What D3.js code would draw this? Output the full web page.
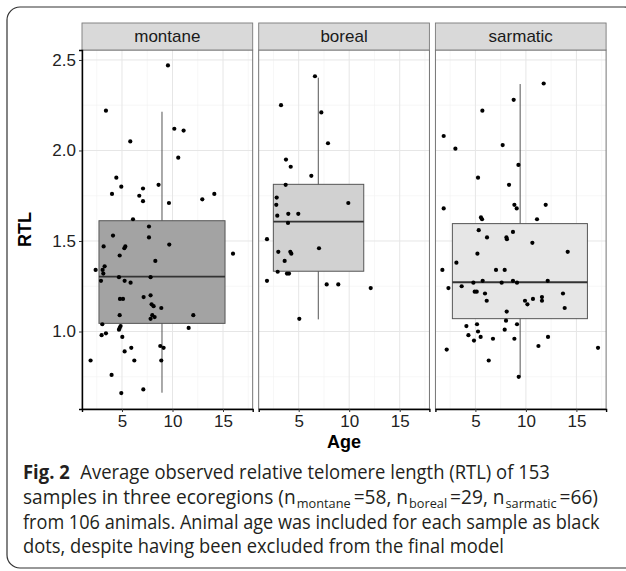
<!DOCTYPE html>
<html>
<head>
<meta charset="utf-8">
<script src="https://cdn.jsdelivr.net/npm/d3@7"></script>
<style>
  body { margin: 0; background: #fff; }
  svg { display: block; }
  .chart text { font-family: 'Liberation Sans', Arial, Helvetica, sans-serif; }
  .chart text.cap { font-family: 'Open Sans', 'Noto Sans', sans-serif; }
</style>
</head>
<body>
<div id="chart"></div>
<script>
// ecoregions shown as facets
var regions = ['montane', 'boreal', 'sarmatic'];

// age (years) and RTL of each sample, per region
var montaneAge = [9.55, 3.41, 10.18, 11.10, 5.82, 10.57, 4.44, 4.93, 7.08, 8.62, 4.01, 6.71, 14.14, 7.08, 12.95, 9.65,
  6.09, 7.67, 4.11, 7.67, 3.18, 9.68, 5.23, 5.33, 4.77, 15.99, 8.30, 3.28, 2.39, 3.08, 3.15, 4.70, 7.83, 2.92, 5.26,
  5.85, 7.83, 7.14, 4.80, 5.10, 7.93, 8.13, 8.89, 12.06, 4.77, 8.00, 8.23, 7.83, 3.05, 4.86, 4.77, 4.70, 11.60, 3.41,
  2.98, 5.03, 5.92, 8.79, 9.12, 5.26, 1.89, 6.22, 8.89, 3.97, 7.11, 4.93];
var montaneRTL = [2.47, 2.22, 2.12, 2.11, 2.05, 1.96, 1.85, 1.80, 1.79, 1.81, 1.76, 1.75, 1.76, 1.72, 1.73, 1.71,
  1.62, 1.58, 1.53, 1.52, 1.47, 1.48, 1.46, 1.47, 1.42, 1.43, 1.39, 1.36, 1.34, 1.34, 1.32, 1.30, 1.30, 1.28, 1.28,
  1.27, 1.20, 1.19, 1.18, 1.18, 1.15, 1.14, 1.13, 1.09, 1.09, 1.09, 1.08, 1.07, 1.04, 1.03, 1.02, 1.01, 1.02, 0.99,
  0.98, 0.97, 0.91, 0.92, 0.91, 0.89, 0.84, 0.84, 0.84, 0.76, 0.68, 0.66];

var borealAge = [6.61, 3.25, 7.24, 7.90, 3.74, 4.21, 6.25, 3.71, 2.82, 2.78, 9.91, 2.88, 3.97, 4.96, 3.94, 1.86,
  2.98, 4.17, 4.27, 7.01, 3.61, 2.92, 3.84, 4.04, 1.86, 7.77, 8.92, 12.13, 5.06];
var borealRTL = [2.41, 2.25, 2.21, 2.04, 1.95, 1.91, 1.86, 1.81, 1.74, 1.70, 1.71, 1.64, 1.65, 1.65, 1.60, 1.51,
  1.44, 1.44, 1.43, 1.46, 1.39, 1.33, 1.32, 1.32, 1.28, 1.26, 1.26, 1.24, 1.07];

var sarmaticAge = [11.76, 8.79, 5.69, 1.86, 3.02, 7.70, 9.26, 5.26, 8.33, 1.86, 8.86, 9.09, 11.96, 5.55, 5.66, 11.10,
  5.33, 6.15, 8.07, 8.12, 8.72, 10.64, 5.20, 14.14, 3.12, 1.73, 7.04, 7.90, 4.80, 5.72, 7.60, 8.72, 9.12, 12.16, 2.33,
  3.64, 4.93, 5.13, 5.95, 6.12, 9.91, 10.15, 10.70, 11.59, 11.59, 13.67, 13.84, 8.10, 8.03, 4.11, 5.16, 9.12, 7.90,
  5.26, 4.31, 4.86, 5.52, 6.74, 8.86, 12.19, 11.24, 2.16, 17.14, 6.32, 9.29];
var sarmaticRTL = [2.37, 2.28, 2.22, 2.08, 2.01, 2.03, 1.92, 1.85, 1.81, 1.68, 1.70, 1.68, 1.70, 1.63, 1.62, 1.62,
  1.56, 1.52, 1.52, 1.51, 1.55, 1.49, 1.43, 1.44, 1.38, 1.34, 1.34, 1.34, 1.27, 1.28, 1.27, 1.28, 1.27, 1.28, 1.24,
  1.25, 1.22, 1.22, 1.21, 1.17, 1.17, 1.15, 1.18, 1.19, 1.17, 1.21, 1.13, 1.11, 1.06, 1.03, 1.04, 1.04, 1.01,
  1.00, 0.98, 0.95, 0.97, 0.96, 0.96, 0.97, 0.92, 0.90, 0.91, 0.84, 0.75];

// boxplot summaries per region: x extent of the box (age), whisker position, quartiles, whiskers
var boxAgeMin = [2.72, 2.49, 2.72];
var boxAgeMax = [15.20, 11.44, 16.09];
var boxAgeMid = [8.96, 6.94, 9.43];
var boxLower = [0.662, 1.067, 0.750];
var boxQ1 = [1.045, 1.333, 1.071];
var boxMedian = [1.303, 1.607, 1.272];
var boxQ3 = [1.612, 1.813, 1.596];
var boxUpper = [2.214, 2.402, 2.367];
var boxFill = ['#a3a3a3', '#d1d1d1', '#e6e6e6'];

var xTicks = [5, 10, 15];
var xMinor = [2.5, 7.5, 12.5, 17.5];
var yTicks = [1.0, 1.5, 2.0, 2.5];
var yMinor = [0.75, 1.25, 1.75, 2.25];

var ages = [montaneAge, borealAge, sarmaticAge];
var rtls = [montaneRTL, borealRTL, sarmaticRTL];

var W = 626, H = 571;
var panelTop = 50, panelBottom = 409, stripTop = 23;
var panelLeft = 82, panelW = 170.7, panelGap = 6;

var svg = d3.select('#chart').append('svg')
  .attr('class', 'chart')
  .attr('width', W)
  .attr('height', H);

// outer frame of the figure
svg.append('rect')
  .attr('x', 7).attr('y', 7)
  .attr('width', 630).attr('height', 561)
  .attr('rx', 13).attr('ry', 13)
  .attr('fill', 'none')
  .attr('stroke', '#333')
  .attr('stroke-width', 1.2);

var x = d3.scaleLinear().domain([1.04, 17.94]).range([0, panelW]);
var y = d3.scaleLinear().domain([0.572, 2.555]).range([panelBottom, panelTop]);

regions.forEach(function (name, i) {
  var g = svg.append('g')
    .attr('transform', 'translate(' + (panelLeft + i * (panelW + panelGap)) + ',0)');

  // grid
  g.selectAll('.xminor').data(xMinor).enter().append('line')
    .attr('x1', function (d) { return x(d); }).attr('x2', function (d) { return x(d); })
    .attr('y1', panelTop).attr('y2', panelBottom)
    .attr('stroke', '#f2f2f2').attr('stroke-width', 0.6);
  g.selectAll('.yminor').data(yMinor).enter().append('line')
    .attr('x1', 0).attr('x2', panelW)
    .attr('y1', function (d) { return y(d); }).attr('y2', function (d) { return y(d); })
    .attr('stroke', '#f2f2f2').attr('stroke-width', 0.6);
  g.selectAll('.xmajor').data(xTicks).enter().append('line')
    .attr('x1', function (d) { return x(d); }).attr('x2', function (d) { return x(d); })
    .attr('y1', panelTop).attr('y2', panelBottom)
    .attr('stroke', '#e6e6e6').attr('stroke-width', 1);
  g.selectAll('.ymajor').data(yTicks).enter().append('line')
    .attr('x1', 0).attr('x2', panelW)
    .attr('y1', function (d) { return y(d); }).attr('y2', function (d) { return y(d); })
    .attr('stroke', '#e6e6e6').attr('stroke-width', 1);

  // whisker
  g.append('line')
    .attr('x1', x(boxAgeMid[i])).attr('x2', x(boxAgeMid[i]))
    .attr('y1', y(boxUpper[i])).attr('y2', y(boxLower[i]))
    .attr('stroke', '#555').attr('stroke-width', 1);

  // box
  g.append('rect')
    .attr('x', x(boxAgeMin[i]))
    .attr('width', x(boxAgeMax[i]) - x(boxAgeMin[i]))
    .attr('y', y(boxQ3[i]))
    .attr('height', y(boxQ1[i]) - y(boxQ3[i]))
    .attr('fill', boxFill[i])
    .attr('stroke', '#555').attr('stroke-width', 1);
  g.append('line')
    .attr('x1', x(boxAgeMin[i])).attr('x2', x(boxAgeMax[i]))
    .attr('y1', y(boxMedian[i])).attr('y2', y(boxMedian[i]))
    .attr('stroke', '#333').attr('stroke-width', 1.8);

  // points
  g.selectAll('circle').data(d3.range(ages[i].length)).enter().append('circle')
    .attr('cx', function (k) { return x(ages[i][k]); })
    .attr('cy', function (k) { return y(rtls[i][k]); })
    .attr('r', 2.1)
    .attr('fill', '#000');

  // panel border
  g.append('rect')
    .attr('x', 0).attr('y', panelTop)
    .attr('width', panelW).attr('height', panelBottom - panelTop)
    .attr('fill', 'none').attr('stroke', '#666').attr('stroke-width', 0.9);

  // strip
  g.append('rect')
    .attr('x', 0).attr('y', stripTop)
    .attr('width', panelW).attr('height', panelTop - stripTop)
    .attr('fill', '#d9d9d9').attr('stroke', '#7a7a7a').attr('stroke-width', 0.9);
  g.append('text')
    .attr('x', panelW / 2).attr('y', (stripTop + panelTop) / 2)
    .attr('dy', '0.35em')
    .attr('text-anchor', 'middle')
    .attr('font-size', 17)
    .attr('fill', '#1a1a1a')
    .text(name);

  // x axis
  var xa = g.append('g')
    .attr('transform', 'translate(0,' + panelBottom + ')')
    .call(d3.axisBottom(x).tickValues(xTicks).tickSize(3).tickPadding(3));
  xa.attr('font-family', null);
  xa.select('.domain').attr('stroke', '#000').attr('stroke-width', 1.4);
  xa.selectAll('.tick line').attr('stroke', '#333');
  xa.selectAll('.tick text').attr('font-size', 17).attr('fill', '#222');

  if (i === 0) {
    var ya = g.append('g')
      .call(d3.axisLeft(y).tickValues(yTicks).tickFormat(d3.format('.1f')).tickSize(3).tickPadding(3));
    ya.attr('font-family', null);
    ya.select('.domain').attr('stroke', '#000').attr('stroke-width', 1.4);
    ya.selectAll('.tick line').attr('stroke', '#333');
    ya.selectAll('.tick text').attr('font-size', 17).attr('fill', '#222');
  }
});

// axis titles
svg.append('text')
  .attr('x', 344).attr('y', 442).attr('dy', '0.35em')
  .attr('text-anchor', 'middle')
  .attr('font-size', 18).attr('font-weight', 'bold')
  .text('Age');
svg.append('text')
  .attr('transform', 'translate(25,' + ((panelTop + panelBottom) / 2) + ') rotate(-90)')
  .attr('dy', '0.35em')
  .attr('text-anchor', 'middle')
  .attr('font-size', 18).attr('font-weight', 'bold')
  .text('RTL');

// caption, one group per line, stretched to the reference line widths
var capLines = [
  [['Fig. 2', 'b'], ['\u00a0\u00a0Average observed relative telomere length (RTL) of 153', 'n']],
  [['samples in three ecoregions (n', 'n'], ['montane', 's'], ['=58, n', 'n'], ['boreal', 's'],
   ['=29, n', 'n'], ['sarmatic', 's'], ['=66)', 'n']],
  [['from 106 animals. Animal age was included for each sample as black', 'n']],
  [['dots, despite having been excluded from the final model', 'n']]
];
var capBase = [479, 504, 528.5, 553];
var capWidth = [528, 576, 578, 482];

capLines.forEach(function (parts, li) {
  var line = svg.append('g');
  var cx = 0;
  parts.forEach(function (p) {
    var sub = p[1] === 's';
    var t = line.append('text')
      .attr('class', 'cap')
      .attr('x', cx)
      .attr('y', sub ? 4 : 0)
      .attr('font-size', sub ? 13 : 19.5)
      .attr('fill', '#231f20')
      .text(p[0]);
    if (p[1] === 'b') t.attr('font-weight', 'bold');
    cx += t.node().getComputedTextLength() + (sub ? 3 : 1);
  });
  line.attr('transform', 'translate(23,' + capBase[li] + ') scale(' + (capWidth[li] / cx) + ',1)');
});
</script>
</body>
</html>
